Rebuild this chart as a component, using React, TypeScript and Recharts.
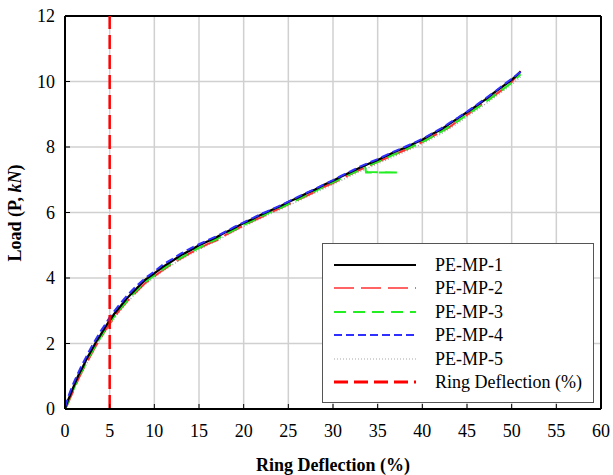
import React from 'react';
import { LineChart, Line, XAxis, YAxis, CartesianGrid, ReferenceLine, Legend, Label } from 'recharts';

const xTicks = [0, 5, 10, 15, 20, 25, 30, 35, 40, 45, 50, 55, 60];
const yTicks = [0, 2, 4, 6, 8, 10, 12];

const deflection = [0, 0.3, 0.6, 1, 1.5, 2, 2.5, 3, 3.5, 4, 4.5, 5, 5.5, 6, 7, 8, 9, 10, 11, 12, 13, 14, 15, 16, 17, 18, 19, 20, 21, 22, 23, 24, 25, 26, 27, 28, 29, 30, 31, 32, 33, 34, 35, 36, 37, 38, 39, 40, 41, 42, 43, 44, 45, 46, 47, 48, 49, 50, 51];

const loadMP1 = [0, 0.24, 0.44, 0.71, 1.03, 1.29, 1.57, 1.81, 2.06, 2.27, 2.5, 2.7, 2.9, 3.07, 3.4, 3.68, 3.95, 4.14, 4.35, 4.52, 4.7, 4.84, 5.0, 5.12, 5.25, 5.4, 5.53, 5.68, 5.8, 5.94, 6.06, 6.18, 6.32, 6.44, 6.58, 6.7, 6.85, 6.97, 7.11, 7.24, 7.37, 7.49, 7.6, 7.73, 7.86, 7.97, 8.1, 8.22, 8.38, 8.52, 8.7, 8.88, 9.06, 9.25, 9.44, 9.65, 9.85, 10.05, 10.3];
const loadMP2 = [0, 0.15, 0.35, 0.6, 0.92, 1.2, 1.45, 1.7, 1.95, 2.17, 2.4, 2.6, 2.8, 2.98, 3.3, 3.58, 3.85, 4.05, 4.25, 4.44, 4.6, 4.76, 4.9, 5.04, 5.15, 5.32, 5.46, 5.6, 5.74, 5.86, 6.0, 6.12, 6.25, 6.38, 6.5, 6.64, 6.78, 6.9, 7.04, 7.17, 7.3, 7.42, 7.55, 7.66, 7.78, 7.9, 8.02, 8.15, 8.3, 8.45, 8.6, 8.8, 8.98, 9.18, 9.37, 9.56, 9.76, 9.98, 10.32];
const deflectionMP3 = [0, 0.3, 0.6, 1, 1.5, 2, 2.5, 3, 3.5, 4, 4.5, 5, 5.5, 6, 7, 8, 9, 10, 11, 12, 13, 14, 15, 16, 17, 18, 19, 20, 21, 22, 23, 24, 25, 26, 27, 28, 29, 30, 31, 32, 33, 33.6, 33.7, 37.2, 33.8, 34, 35, 36, 37, 38, 39, 40, 41, 42, 43, 44, 45, 46, 47, 48, 49, 50, 51];
const loadMP3 = [0, 0.18, 0.38, 0.64, 0.96, 1.22, 1.5, 1.74, 1.98, 2.2, 2.42, 2.63, 2.82, 3.0, 3.32, 3.62, 3.88, 4.08, 4.28, 4.46, 4.62, 4.78, 4.92, 5.06, 5.19, 5.34, 5.48, 5.62, 5.75, 5.88, 6.01, 6.13, 6.26, 6.39, 6.52, 6.65, 6.79, 6.92, 7.05, 7.18, 7.3, 7.38, 7.22, 7.22, 7.24, 7.43, 7.55, 7.67, 7.79, 7.91, 8.03, 8.15, 8.3, 8.45, 8.62, 8.8, 8.98, 9.17, 9.36, 9.56, 9.76, 9.96, 10.22];
const loadMP4 = [0.05, 0.32, 0.55, 0.82, 1.12, 1.4, 1.66, 1.92, 2.15, 2.38, 2.58, 2.8, 2.98, 3.16, 3.48, 3.76, 4.0, 4.2, 4.42, 4.58, 4.75, 4.9, 5.03, 5.16, 5.28, 5.42, 5.57, 5.7, 5.83, 5.96, 6.08, 6.2, 6.33, 6.47, 6.6, 6.72, 6.86, 6.99, 7.13, 7.26, 7.4, 7.52, 7.63, 7.76, 7.88, 8.0, 8.12, 8.25, 8.4, 8.55, 8.73, 8.9, 9.08, 9.27, 9.47, 9.67, 9.88, 10.08, 10.3];
const loadMP5 = [0, 0.14, 0.33, 0.58, 0.9, 1.16, 1.42, 1.68, 1.92, 2.14, 2.36, 2.56, 2.76, 2.94, 3.27, 3.56, 3.82, 4.02, 4.22, 4.4, 4.57, 4.72, 4.87, 5.01, 5.14, 5.29, 5.43, 5.57, 5.7, 5.83, 5.96, 6.08, 6.21, 6.34, 6.47, 6.6, 6.73, 6.86, 6.99, 7.12, 7.25, 7.37, 7.49, 7.61, 7.73, 7.85, 7.97, 8.1, 8.24, 8.39, 8.55, 8.73, 8.92, 9.11, 9.3, 9.5, 9.7, 9.9, 10.15];
const ringDeflectionX = [5, 5];
const ringDeflectionY = [0, 12];

const seriesNames = ['PE-MP-1', 'PE-MP-2', 'PE-MP-3', 'PE-MP-4', 'PE-MP-5', 'Ring Deflection (%)'];

const toRows = (xs: number[], ys: number[]) => xs.map((x, i) => ({ deflection: x, load: ys[i] }));

const styles = [
  { color: '#000000', width: 2.2, dash: undefined as string | undefined },
  { color: '#ff3030', width: 2, dash: '20 7' },
  { color: '#22ee22', width: 2, dash: '12 7' },
  { color: '#2f2fff', width: 2, dash: '8 4' },
  { color: '#a8a8a8', width: 1.5, dash: '1 2' },
  { color: '#ff0000', width: 2.5, dash: '14 6' },
];

const legendWidths = [2.2, 1.5, 1.8, 1.8, 1, 3];

const series = [
  toRows(deflection, loadMP1),
  toRows(deflection, loadMP2),
  toRows(deflectionMP3, loadMP3),
  toRows(deflection, loadMP4),
  toRows(deflection, loadMP5),
  toRows(ringDeflectionX, ringDeflectionY),
];

const FONT = '"Liberation Serif", "Times New Roman", serif';

const XTick = (props: any) => {
  const { x, y, payload } = props;
  return (
    <g>
      <line x1={x} y1={y} x2={x} y2={y - 5} stroke="#000" strokeWidth={1} />
      <text x={x} y={y + 22} textAnchor="middle" dominantBaseline="central" fontFamily={FONT} fontSize={18} fill="#000">
        {payload.value}
      </text>
    </g>
  );
};

const YTick = (props: any) => {
  const { x, y, payload } = props;
  return (
    <g>
      <line x1={x} y1={y} x2={x + 5} y2={y} stroke="#000" strokeWidth={1} />
      <text x={x - 10} y={y} textAnchor="end" dominantBaseline="central" fontFamily={FONT} fontSize={18} fill="#000">
        {payload.value}
      </text>
    </g>
  );
};

const LegendBox = () => (
  <div
    style={{
      width: 272,
      height: 160,
      boxSizing: 'border-box',
      border: '1.5px solid #555',
      background: '#fff',
      position: 'relative',
      fontFamily: FONT,
      fontSize: 18,
      color: '#000',
    }}
  >
    {seriesNames.map((name, i) => {
      const s = styles[i];
      const cy = 21 + i * 23.4;
      return (
        <div key={name} style={{ position: 'absolute', left: 0, top: cy - 11, height: 22, width: 270 }}>
          <svg width={90} height={22} style={{ position: 'absolute', left: 10, top: 0 }}>
            <line x1={1} y1={11} x2={83} y2={11} stroke={s.color} strokeWidth={legendWidths[i]} strokeDasharray={s.dash} />
          </svg>
          <span style={{ position: 'absolute', left: 112, top: 0, lineHeight: '22px', whiteSpace: 'nowrap' }}>{name}</span>
        </div>
      );
    })}
  </div>
);

export default function App() {
  return (
    <div style={{ position: 'absolute', left: 0, top: 0, width: 613, height: 475, background: '#fff' }}>
      <LineChart width={613} height={475} margin={{ top: 16, right: 12, bottom: 0, left: 0 }}>
        <CartesianGrid stroke="#d0d0d0" strokeWidth={1.5} horizontal vertical />
        <XAxis
          type="number"
          dataKey="deflection"
          domain={[0, 60]}
          ticks={xTicks}
          interval={0}
          height={66}
          tickSize={0}
          tickMargin={0}
          tickLine={false}
          axisLine={{ stroke: '#000', strokeWidth: 2 }}
          tick={<XTick />}
          allowDuplicatedCategory={false}
        >
          <Label
            content={() => (
              <text x={333} y={465} textAnchor="middle" dominantBaseline="central" fontFamily={FONT} fontSize={18} fontWeight="bold" fill="#000">
                Ring Deflection (%)
              </text>
            )}
          />
        </XAxis>
        <YAxis
          type="number"
          dataKey="load"
          domain={[0, 12]}
          ticks={yTicks}
          interval={0}
          width={65}
          tickSize={0}
          tickMargin={0}
          tickLine={false}
          axisLine={{ stroke: '#000', strokeWidth: 2 }}
          tick={<YTick />}
        >
          <Label
            content={() => (
              <text x={15} y={213} textAnchor="middle" dominantBaseline="central" transform="rotate(-90 15 213)" fontFamily={FONT} fontSize={18} fontWeight="bold" fill="#000">
                Load (P, <tspan fontStyle="italic">kN</tspan>)
              </text>
            )}
          />
        </YAxis>
        <ReferenceLine y={12} stroke="#000" strokeWidth={2} ifOverflow="visible" />
        <ReferenceLine x={60} stroke="#000" strokeWidth={2} ifOverflow="visible" />
        {[4, 1, 2, 0, 3].map((i) => (
          <Line
            key={seriesNames[i]}
            name={seriesNames[i]}
            data={series[i]}
            dataKey="load"
            type="linear"
            stroke={styles[i].color}
            strokeWidth={styles[i].width}
            strokeDasharray={styles[i].dash}
            dot={false}
            activeDot={false}
            isAnimationActive={false}
          />
        ))}
        <Line
          name={seriesNames[5]}
          data={series[5]}
          dataKey="load"
          type="linear"
          stroke={styles[5].color}
          strokeWidth={styles[5].width}
          strokeDasharray={styles[5].dash}
          dot={false}
          activeDot={false}
          isAnimationActive={false}
        />
        <Legend
          layout="vertical"
          align="center"
          verticalAlign="middle"
          wrapperStyle={{ position: 'absolute', left: 322, top: 243, width: 272, height: 160 }}
          content={() => <LegendBox />}
        />
      </LineChart>
    </div>
  );
}
